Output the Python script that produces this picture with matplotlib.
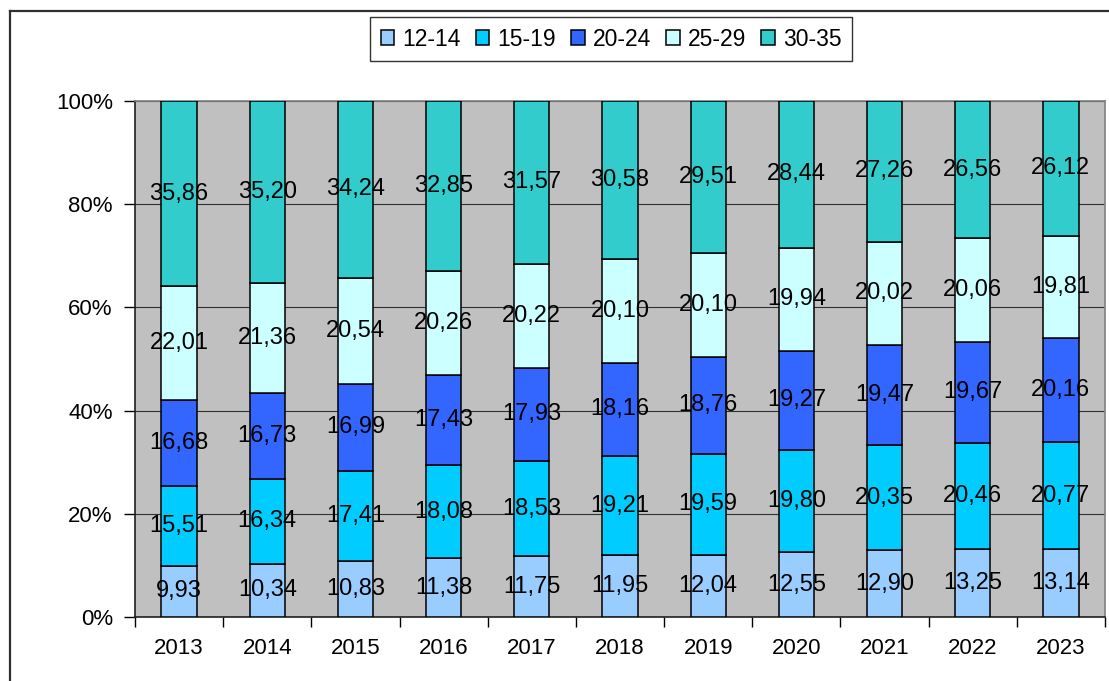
import matplotlib
matplotlib.use("Agg")
import matplotlib.pyplot as plt
import numpy as np
from matplotlib.lines import Line2D

years = ["2013", "2014", "2015", "2016", "2017", "2018", "2019", "2020", "2021", "2022", "2023"]
groups = ["12-14", "15-19", "20-24", "25-29", "30-35"]

age_12_14 = [9.93, 10.34, 10.83, 11.38, 11.75, 11.95, 12.04, 12.55, 12.90, 13.25, 13.14]
age_15_19 = [15.51, 16.34, 17.41, 18.08, 18.53, 19.21, 19.59, 19.80, 20.35, 20.46, 20.77]
age_20_24 = [16.68, 16.73, 16.99, 17.43, 17.93, 18.16, 18.76, 19.27, 19.47, 19.67, 20.16]
age_25_29 = [22.01, 21.36, 20.54, 20.26, 20.22, 20.10, 20.10, 19.94, 20.02, 20.06, 19.81]
age_30_35 = [35.86, 35.20, 34.24, 32.85, 31.57, 30.58, 29.51, 28.44, 27.26, 26.56, 26.12]

colors = ["#99CCFF", "#00CCFF", "#3366FF", "#CCFFFF", "#33CCCC"]

plt.rcParams["font.family"] = ["Liberation Sans", "DejaVu Sans"]

series = np.array([age_12_14, age_15_19, age_20_24, age_25_29, age_30_35])
shares = series / series.sum(axis=0) * 100

fig = plt.figure(figsize=(11.09, 6.81), dpi=100)
ax = fig.add_axes([135 / 1109, 1 - 617 / 681, 970 / 1109, 516 / 681])
ax.set_facecolor("#C0C0C0")

x = np.arange(len(years))
bottom = np.zeros(len(years))
for vals, share, name, col in zip(series, shares, groups, colors):
    ax.bar(x, share, width=0.4, bottom=bottom, color=col, edgecolor="black",
           linewidth=1.1, label=name, zorder=3)
    for xi, b, s, v in zip(x, bottom, share, vals):
        ax.text(xi, b + s / 2, f"{v:.2f}".replace(".", ","), ha="center", va="center",
                fontsize=17, color="black", zorder=4)
    bottom += share

ax.set_xlim(-0.5, len(years) - 0.5)
ax.set_ylim(0, 100)
ax.set_yticks([0, 20, 40, 60, 80, 100])
ax.set_yticklabels(["0%", "20%", "40%", "60%", "80%", "100%"])
ax.yaxis.grid(True, color="#303030", linewidth=0.8, zorder=0)
ax.tick_params(axis="y", direction="out", length=8, width=1, labelsize=16, pad=8)

ax.set_xticks(x)
ax.set_xticklabels(years)
ax.set_xticks(np.arange(-0.5, len(years)), minor=True)
ax.tick_params(axis="x", which="major", length=0, labelsize=16, pad=15)
ax.tick_params(axis="x", which="minor", direction="out", length=7, width=1)

for side in ["top", "right"]:
    ax.spines[side].set_color("#808080")
    ax.spines[side].set_linewidth(1.2)
for side in ["left", "bottom"]:
    ax.spines[side].set_color("#202020")
    ax.spines[side].set_linewidth(1.2)

leg = fig.legend(loc="center", bbox_to_anchor=(611 / 1109, 1 - 39 / 681), ncol=5,
                 fontsize=16.5, frameon=True, fancybox=False, edgecolor="black",
                 handlelength=0.6, handleheight=0.6, handletextpad=0.35,
                 columnspacing=0.65, borderpad=0.45, borderaxespad=0)
leg.get_frame().set_linewidth(1.0)
for h in leg.legend_handles:
    h.set_edgecolor("black")

# outer chart border (top and left visible)
fig.add_artist(Line2D([10 / 1109, 10 / 1109], [0, 1 - 11 / 681], transform=fig.transFigure,
                      color="#303030", linewidth=1.6))
fig.add_artist(Line2D([10 / 1109, 1], [1 - 11 / 681, 1 - 11 / 681], transform=fig.transFigure,
                      color="#303030", linewidth=1.6))

fig.savefig("out.png", dpi=100)
